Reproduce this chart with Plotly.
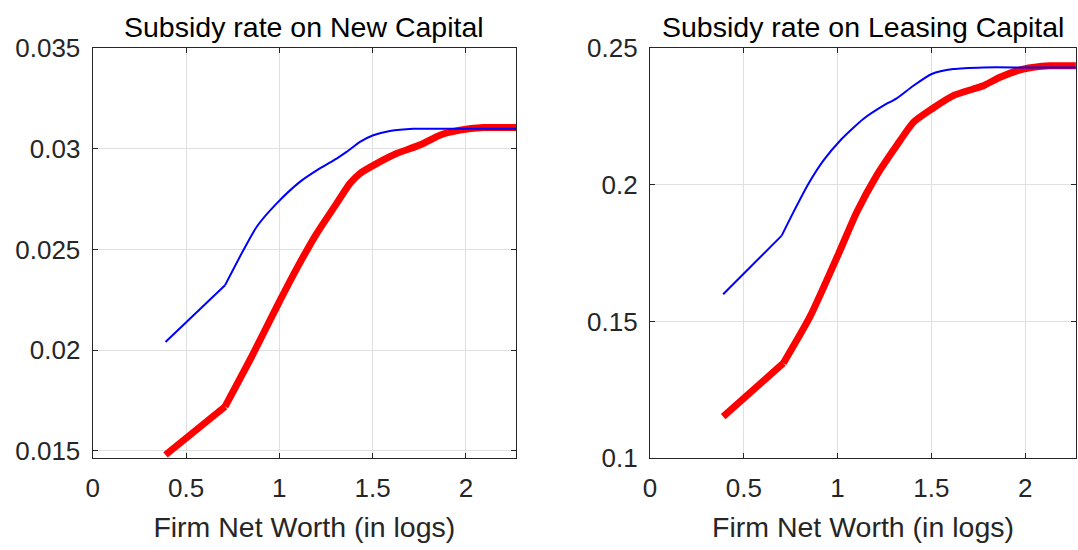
import plotly.graph_objects as go

# Firm net worth grid (in logs) and subsidy rates; index KINK marks the corner point
x_new_blue = [0.39, 0.709, 0.807, 0.878, 0.986, 1.110, 1.217, 1.307, 1.360, 1.432, 1.503, 1.592, 1.717, 1.9, 2.1, 2.27]
y_new_blue = [0.0204, 0.02322, 0.02496, 0.02612, 0.02729, 0.02836, 0.02903, 0.02952, 0.02985, 0.03035, 0.03068, 0.03089, 0.03100, 0.03100, 0.03100, 0.03100]

x_new_red = [0.39, 0.709, 0.86, 0.986, 1.093, 1.2, 1.307, 1.378, 1.432, 1.521, 1.628, 1.726, 1.771, 1.860, 1.967, 2.092, 2.27]
y_new_red = [0.01479, 0.01719, 0.01982, 0.02215, 0.02405, 0.02579, 0.02729, 0.02828, 0.02878, 0.02927, 0.02977, 0.03010, 0.03027, 0.03068, 0.03093, 0.03106, 0.03106]

x_lease_blue = [0.39, 0.702, 0.764, 0.844, 0.924, 1.013, 1.137, 1.244, 1.315, 1.404, 1.502, 1.617, 1.777, 2.0, 2.27]
y_lease_blue = [0.1600, 0.18146, 0.18998, 0.20037, 0.2089, 0.2162, 0.22414, 0.2290, 0.23168, 0.2363, 0.2406, 0.2424, 0.2430, 0.2430, 0.2430]

x_lease_red = [0.39, 0.711, 0.853, 1.005, 1.102, 1.208, 1.315, 1.404, 1.502, 1.617, 1.723, 1.777, 1.866, 1.99, 2.132, 2.27]
y_lease_red = [0.11525, 0.1348, 0.1518, 0.1748, 0.1900, 0.2034, 0.2144, 0.2229, 0.2278, 0.2327, 0.2351, 0.2363, 0.2394, 0.2424, 0.2436, 0.2436]

KINK = 1

x_ticks = [0, 0.5, 1, 1.5, 2]
x_tick_text = ["0", "0.5", "1", "1.5", "2"]
y_ticks_new = [0.015, 0.02, 0.025, 0.03, 0.035]
y_text_new = ["0.015", "0.02", "0.025", "0.03", "0.035"]
y_ticks_lease = [0.1, 0.15, 0.2, 0.25]
y_text_lease = ["0.1", "0.15", "0.2", "0.25"]

FONT = "Liberation Sans, Arial, Helvetica, sans-serif"
AXIS_COLOR = "#262626"
GRID_COLOR = "#e0e0e0"
TICK_SIZE = 26
LABEL_SIZE = 28.5
W, H = 1078, 550

fig = go.Figure()


def add_curve(xs, ys, color, width, xa, ya):
    # straight segment up to the corner, smooth curve after it
    fig.add_trace(go.Scatter(x=xs[:KINK + 1], y=ys[:KINK + 1], mode="lines",
                             line=dict(color=color, width=width),
                             xaxis=xa, yaxis=ya, hoverinfo="skip"))
    fig.add_trace(go.Scatter(x=xs[KINK:], y=ys[KINK:], mode="lines",
                             line=dict(color=color, width=width, shape="spline", smoothing=0.6),
                             xaxis=xa, yaxis=ya))


add_curve(x_new_red, y_new_red, "#ff0000", 7, "x", "y")
add_curve(x_new_blue, y_new_blue, "#0000ff", 2, "x", "y")
add_curve(x_lease_red, y_lease_red, "#ff0000", 7, "x2", "y2")
add_curve(x_lease_blue, y_lease_blue, "#0000ff", 2, "x2", "y2")

common = dict(
    showline=True, linecolor=AXIS_COLOR, linewidth=1.3, mirror="allticks",
    ticks="inside", ticklen=5, tickcolor=AXIS_COLOR, tickwidth=1.3,
    showgrid=True, gridcolor=GRID_COLOR, gridwidth=1, zeroline=False,
    automargin=False, ticklabelstandoff=6,
    tickfont=dict(family=FONT, size=TICK_SIZE, color=AXIS_COLOR),
)

y_top = 1 - 48.3 / H
y_bot = 1 - 458.3 / H
x_title = dict(text="Firm Net Worth (in logs)", standoff=15,
               font=dict(family=FONT, size=LABEL_SIZE, color=AXIS_COLOR))

fig.update_layout(
    width=W, height=H,
    margin=dict(l=0, r=0, t=0, b=0),
    paper_bgcolor="white", plot_bgcolor="white",
    showlegend=False,
    xaxis=dict(domain=[92.7 / W, 516 / W], range=[0, 2.268], anchor="y",
               tickvals=x_ticks, ticktext=x_tick_text, title=x_title, **common),
    yaxis=dict(domain=[y_bot, y_top], range=[0.01462, 0.035], anchor="x",
               tickvals=y_ticks_new, ticktext=y_text_new, **common),
    xaxis2=dict(domain=[650 / W, 1076 / W], range=[0, 2.271], anchor="y2",
                tickvals=x_ticks, ticktext=x_tick_text, title=x_title, **common),
    yaxis2=dict(domain=[y_bot, y_top], range=[0.1, 0.25], anchor="x2",
                tickvals=y_ticks_lease, ticktext=y_text_lease, **common),
    annotations=[
        dict(text="Subsidy rate on New Capital", x=304.3 / W, y=1 - 27 / H,
             xref="paper", yref="paper", xanchor="center", yanchor="middle",
             showarrow=False, font=dict(family=FONT, size=LABEL_SIZE, color="black")),
        dict(text="Subsidy rate on Leasing Capital", x=863 / W, y=1 - 27 / H,
             xref="paper", yref="paper", xanchor="center", yanchor="middle",
             showarrow=False, font=dict(family=FONT, size=LABEL_SIZE, color="black")),
    ],
)

fig.write_html("out.html")
